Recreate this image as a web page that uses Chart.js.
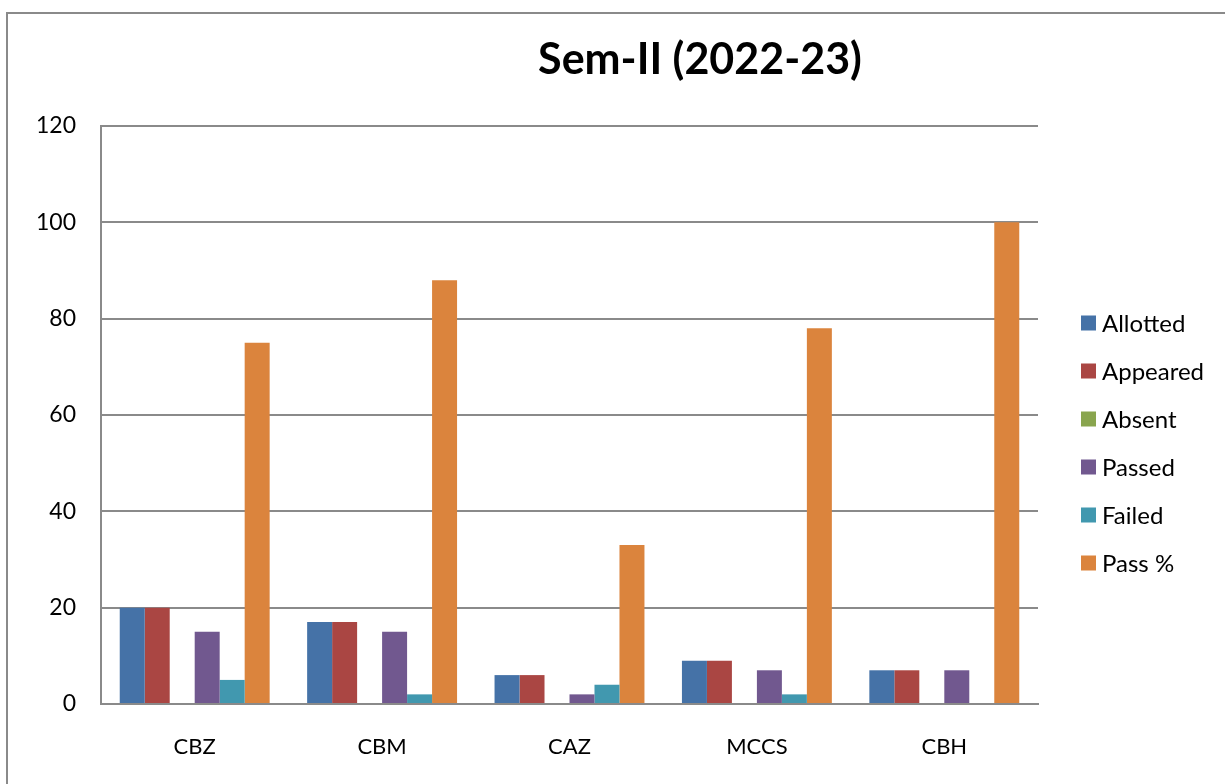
<!DOCTYPE html>
<html>
<head>
<meta charset="utf-8">
<script src="https://cdn.jsdelivr.net/npm/chart.js@4"></script>
<style>
  html, body { margin: 0; padding: 0; background: #fff; }
  #wrap { position: relative; width: 1225px; height: 784px; }
</style>
</head>
<body>
<div id="wrap"><canvas id="semChart" width="1225" height="784"></canvas></div>
<script>
const centres = ['CBZ', 'CBM', 'CAZ', 'MCCS', 'CBH']
const allotted = [20, 17, 6, 9, 7]
const appeared = [20, 17, 6, 9, 7]
const absent = [0, 0, 0, 0, 0]
const passed = [15, 15, 2, 7, 7]
const failed = [5, 2, 4, 2, 0]
const passPct = [75, 88, 33, 78, 100]
const yTicks = [0, 20, 40, 60, 80, 100, 120]

const seriesNames = ['Allotted', 'Appeared', 'Absent', 'Passed', 'Failed', 'Pass %']
const seriesColors = ['#4572A7', '#AA4643', '#89A54E', '#71588F', '#4198AF', '#DB843D']
const seriesData = [allotted, appeared, absent, passed, failed, passPct]

const FONT = 'Lato, Carlito, "Liberation Sans", sans-serif'

// Frame, title and legend drawn around the plot
const decorations = {
  id: 'decorations',
  beforeDraw (chart) {
    const c = chart.ctx
    c.save()
    c.fillStyle = '#fff'
    c.fillRect(0, 0, chart.width, chart.height)
    c.strokeStyle = '#8a8a8a'
    c.lineWidth = 2
    c.strokeRect(7, 13, 1400, 1000)
    c.restore()
  },
  afterDraw (chart) {
    const c = chart.ctx
    c.save()
    c.fillStyle = '#000'
    c.font = 'bold 43px ' + FONT
    c.textAlign = 'center'
    c.textBaseline = 'middle'
    c.fillText('Sem-II (2022-23)', 700, 60)

    c.font = '24px ' + FONT
    c.textAlign = 'left'
    chart.data.datasets.forEach((ds, i) => {
      const y = 323 + i * 48
      c.fillStyle = ds.backgroundColor
      c.fillRect(1081, y - 7.5, 15, 15)
      c.fillStyle = '#000'
      c.fillText(ds.label, 1102, y + 1)
    })
    c.restore()
  }
}

const ctx = document.getElementById('semChart').getContext('2d')
new Chart(ctx, {
  type: 'bar',
  data: {
    labels: centres,
    datasets: seriesNames.map((name, i) => ({
      label: name,
      data: seriesData[i],
      backgroundColor: seriesColors[i],
      borderWidth: 0,
      categoryPercentage: 0.8,
      barPercentage: 1.0
    }))
  },
  options: {
    responsive: false,
    animation: false,
    layout: {
      padding: { left: 0, right: 187, top: 126, bottom: 0 }
    },
    plugins: {
      legend: { display: false },
      title: { display: false },
      tooltip: { enabled: false }
    },
    scales: {
      x: {
        grid: { display: false, drawTicks: false },
        border: { display: true, color: '#8a8a8a', width: 2 },
        ticks: {
          color: '#000',
          padding: 30,
          font: { family: FONT, size: 22 }
        },
        afterFit (scale) { scale.height = 80 }
      },
      y: {
        min: 0,
        max: 120,
        afterBuildTicks (scale) {
          scale.ticks = yTicks.map((v) => ({ value: v }))
        },
        grid: { color: '#8a8a8a', lineWidth: 2, drawTicks: false },
        border: { display: true, color: '#8a8a8a', width: 2 },
        ticks: {
          color: '#000',
          padding: 25,
          font: { family: FONT, size: 23 }
        },
        afterFit (scale) { scale.width = 101 }
      }
    }
  },
  plugins: [decorations]
})
</script>
</body>
</html>
